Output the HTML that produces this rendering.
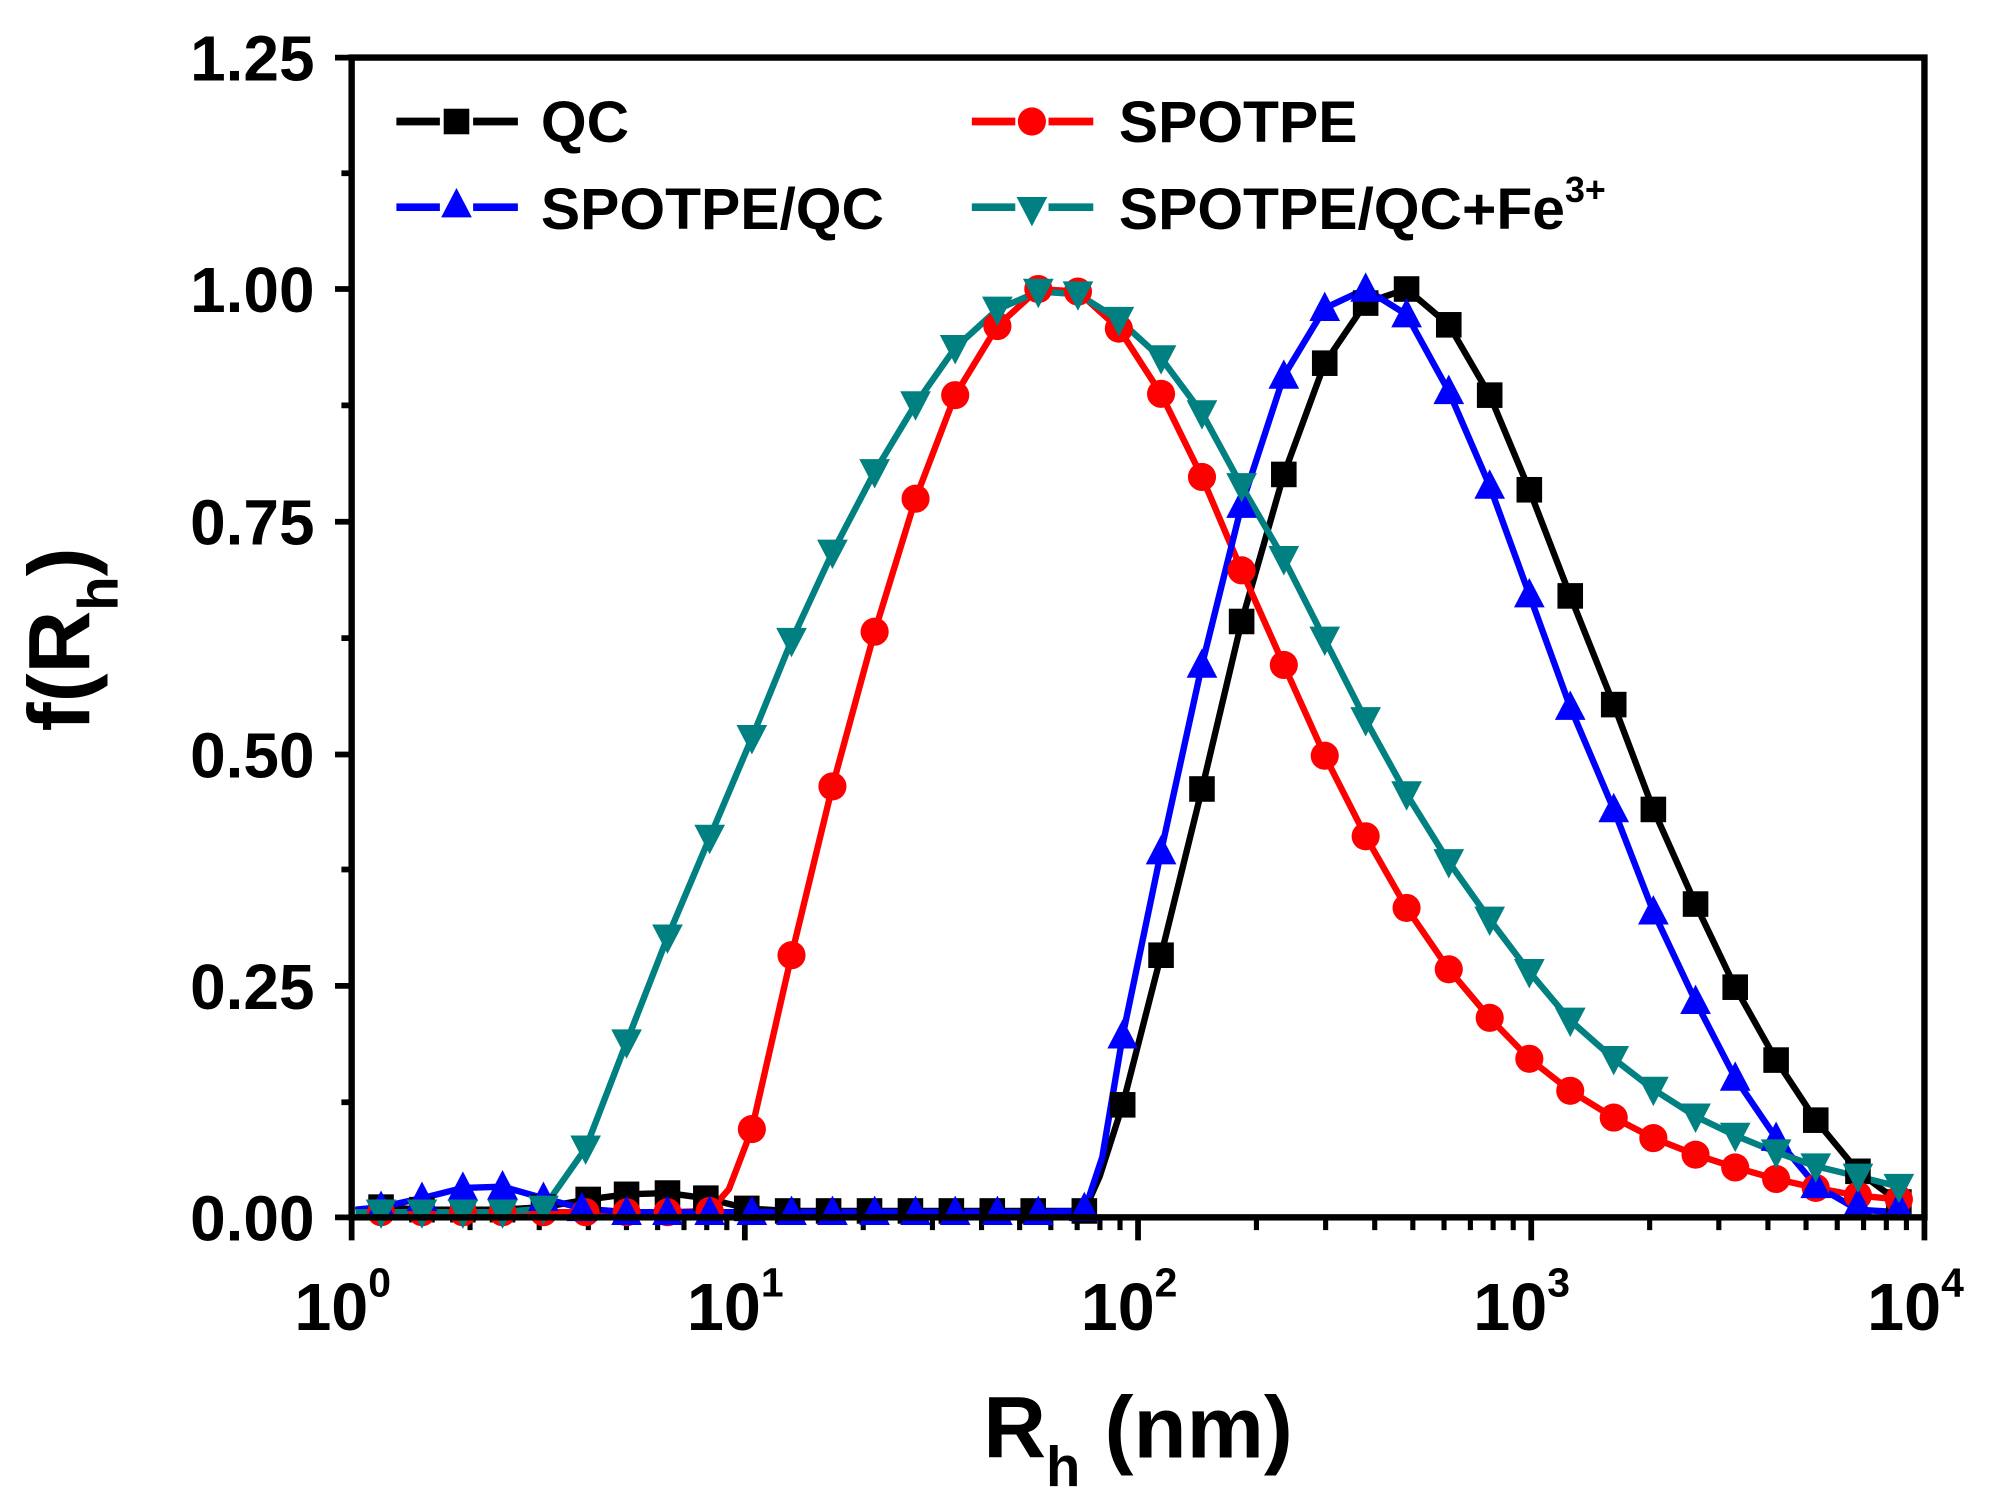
<!DOCTYPE html>
<html><head><meta charset="utf-8"><style>
html,body{margin:0;padding:0;background:#fff;}
svg{display:block;}
text{font-family:"Liberation Sans",Arial,sans-serif;font-weight:bold;}
</style></head><body>
<svg width="2005" height="1507" viewBox="0 0 1568 1178.5" xmlns="http://www.w3.org/2000/svg">
<defs>
<rect id="sq" x="-10" y="-10" width="20" height="20" fill="#000"/>
<circle id="ci" r="11" fill="#ff0000"/>
<polygon id="tu" points="0,-13 12,10 -12,10" fill="#0000ff"/>
<polygon id="td" points="0,13 12,-10 -12,-10" fill="#008080"/>
<path id="mt" d="M92.6,952v10M146.7,952v10M185.1,952v10M214.9,952v10M239.3,952v10M259.9,952v10M277.7,952v10M293.4,952v10" stroke="#000" stroke-width="4"/>
</defs>
<g stroke="#000" stroke-width="4.5">
<path d="M262,45H275M262,226H275M262,408H275M262,590H275M262,771H275M262,952H275"/>
<path d="M267,135.5H275M267,317H275M267,499H275M267,680H275M267,862H275"/>
<path d="M275,952v18M582.5,952v18M890,952v18M1197.5,952v18M1505,952v18"/>
</g>
<use href="#mt" x="275"/><use href="#mt" x="582.5"/><use href="#mt" x="890"/><use href="#mt" x="1197.5"/>
<g fill="none" stroke-width="5" stroke-linejoin="round">
<polyline stroke="#000" points="278,947 298,944 330,946 362,946 393,946 425,944 460,938 490,934 522,933 552,937 584,945 616,947 648,947 680,947 712,947 744,947 776,947 808,947 848,947 860,920 878,864 908,747 940,617 971,486 1004,371 1036,284 1068,237 1100,226 1133,254 1165,309 1196,383 1228,466 1262,551 1293,633 1326,707 1357,772 1389,829 1420,876 1453,916 1485,940"/>
<polyline stroke="#ff0000" points="278,948 298,948 330,948 362,948 393,948 425,948 458,948 490,948 522,948 555,947 570,930 588,883 619,747 651,615 684,494 716,390 747,309 780,255 812,226 843,228 875,257 908,308 940,373 971,446 1004,520 1036,591 1068,654 1100,710 1133,758 1165,796 1196,828 1228,853 1262,874 1293,890 1326,903 1357,913 1389,922 1420,929 1453,935 1485,938"/>
<polyline stroke="#0000ff" points="278,946 298,944 330,937 362,929 393,928 425,937 455,945 490,948 522,948 555,948 588,948 619,948 651,948 684,948 716,948 747,948 780,948 812,948 848,947 862,905 878,810 908,666 940,520 971,395 1004,294 1036,241 1068,226 1100,246 1133,306 1165,380 1196,465 1228,553 1262,633 1293,713 1326,783 1357,843 1389,890 1420,927 1453,946 1485,948"/>
<polyline stroke="#008080" points="278,948 298,948 330,948 362,948 393,948 425,945 458,898 490,815 522,733 555,655 588,577 619,501 651,432 684,369 716,316 747,272 780,242 812,228 843,230 875,250 908,280 940,323 971,380 1004,437 1036,500 1068,563 1100,621 1133,674 1165,719 1196,760 1228,798 1262,828 1293,852 1326,873 1357,888 1389,901 1420,912 1453,920 1485,928"/>
</g>
<g>
<use href="#sq" x="298" y="944"/><use href="#sq" x="330" y="946"/><use href="#sq" x="362" y="946"/><use href="#sq" x="393" y="946"/><use href="#sq" x="425" y="944"/><use href="#sq" x="460" y="938"/><use href="#sq" x="490" y="934"/><use href="#sq" x="522" y="933"/><use href="#sq" x="552" y="937"/><use href="#sq" x="584" y="945"/><use href="#sq" x="616" y="947"/><use href="#sq" x="648" y="947"/><use href="#sq" x="680" y="947"/><use href="#sq" x="712" y="947"/><use href="#sq" x="744" y="947"/><use href="#sq" x="776" y="947"/><use href="#sq" x="808" y="947"/><use href="#sq" x="848" y="947"/>
<use href="#sq" x="878" y="864"/><use href="#sq" x="908" y="747"/><use href="#sq" x="940" y="617"/><use href="#sq" x="971" y="486"/><use href="#sq" x="1004" y="371"/><use href="#sq" x="1036" y="284"/><use href="#sq" x="1068" y="237"/><use href="#sq" x="1100" y="226"/><use href="#sq" x="1133" y="254"/><use href="#sq" x="1165" y="309"/><use href="#sq" x="1196" y="383"/><use href="#sq" x="1228" y="466"/><use href="#sq" x="1262" y="551"/><use href="#sq" x="1293" y="633"/><use href="#sq" x="1326" y="707"/><use href="#sq" x="1357" y="772"/><use href="#sq" x="1389" y="829"/><use href="#sq" x="1420" y="876"/><use href="#sq" x="1453" y="916"/><use href="#sq" x="1485" y="940"/>
</g>
<g>
<use href="#ci" x="298" y="948"/><use href="#ci" x="330" y="948"/><use href="#ci" x="362" y="948"/><use href="#ci" x="393" y="948"/><use href="#ci" x="425" y="948"/><use href="#ci" x="458" y="948"/><use href="#ci" x="490" y="948"/><use href="#ci" x="522" y="948"/><use href="#ci" x="555" y="947"/>
<use href="#ci" x="588" y="883"/><use href="#ci" x="619" y="747"/><use href="#ci" x="651" y="615"/><use href="#ci" x="684" y="494"/><use href="#ci" x="716" y="390"/><use href="#ci" x="747" y="309"/><use href="#ci" x="780" y="255"/><use href="#ci" x="812" y="226"/><use href="#ci" x="843" y="228"/><use href="#ci" x="875" y="257"/><use href="#ci" x="908" y="308"/><use href="#ci" x="940" y="373"/><use href="#ci" x="971" y="446"/><use href="#ci" x="1004" y="520"/><use href="#ci" x="1036" y="591"/><use href="#ci" x="1068" y="654"/><use href="#ci" x="1100" y="710"/><use href="#ci" x="1133" y="758"/><use href="#ci" x="1165" y="796"/><use href="#ci" x="1196" y="828"/><use href="#ci" x="1228" y="853"/><use href="#ci" x="1262" y="874"/><use href="#ci" x="1293" y="890"/><use href="#ci" x="1326" y="903"/><use href="#ci" x="1357" y="913"/><use href="#ci" x="1389" y="922"/><use href="#ci" x="1420" y="929"/><use href="#ci" x="1453" y="935"/><use href="#ci" x="1485" y="938"/>
</g>
<g>
<use href="#tu" x="298" y="944"/><use href="#tu" x="330" y="937"/><use href="#tu" x="362" y="929"/><use href="#tu" x="393" y="928"/><use href="#tu" x="425" y="937"/><use href="#tu" x="455" y="945"/><use href="#tu" x="490" y="948"/><use href="#tu" x="522" y="948"/><use href="#tu" x="555" y="948"/><use href="#tu" x="588" y="948"/><use href="#tu" x="619" y="948"/><use href="#tu" x="651" y="948"/><use href="#tu" x="684" y="948"/><use href="#tu" x="716" y="948"/><use href="#tu" x="747" y="948"/><use href="#tu" x="780" y="948"/><use href="#tu" x="812" y="948"/><use href="#tu" x="848" y="945"/>
<use href="#tu" x="878" y="810"/><use href="#tu" x="908" y="666"/><use href="#tu" x="940" y="520"/><use href="#tu" x="971" y="395"/><use href="#tu" x="1004" y="294"/><use href="#tu" x="1036" y="241"/><use href="#tu" x="1068" y="226"/><use href="#tu" x="1100" y="246"/><use href="#tu" x="1133" y="306"/><use href="#tu" x="1165" y="380"/><use href="#tu" x="1196" y="465"/><use href="#tu" x="1228" y="553"/><use href="#tu" x="1262" y="633"/><use href="#tu" x="1293" y="713"/><use href="#tu" x="1326" y="783"/><use href="#tu" x="1357" y="843"/><use href="#tu" x="1389" y="890"/><use href="#tu" x="1420" y="927"/><use href="#tu" x="1453" y="942"/><use href="#tu" x="1485" y="944"/>
</g>
<g>
<use href="#td" x="298" y="948"/><use href="#td" x="330" y="948"/><use href="#td" x="362" y="948"/><use href="#td" x="393" y="948"/><use href="#td" x="425" y="945"/><use href="#td" x="458" y="898"/><use href="#td" x="490" y="815"/><use href="#td" x="522" y="733"/><use href="#td" x="555" y="655"/><use href="#td" x="588" y="577"/><use href="#td" x="619" y="501"/><use href="#td" x="651" y="432"/><use href="#td" x="684" y="369"/><use href="#td" x="716" y="316"/><use href="#td" x="747" y="272"/><use href="#td" x="780" y="242"/><use href="#td" x="812" y="228"/><use href="#td" x="843" y="230"/><use href="#td" x="875" y="250"/><use href="#td" x="908" y="280"/><use href="#td" x="940" y="323"/><use href="#td" x="971" y="380"/><use href="#td" x="1004" y="437"/><use href="#td" x="1036" y="500"/><use href="#td" x="1068" y="563"/><use href="#td" x="1100" y="621"/><use href="#td" x="1133" y="674"/><use href="#td" x="1165" y="719"/><use href="#td" x="1196" y="760"/><use href="#td" x="1228" y="798"/><use href="#td" x="1262" y="828"/><use href="#td" x="1293" y="852"/><use href="#td" x="1326" y="873"/><use href="#td" x="1357" y="888"/><use href="#td" x="1389" y="901"/><use href="#td" x="1420" y="912"/><use href="#td" x="1453" y="920"/><use href="#td" x="1485" y="928"/>
</g>
<rect x="275" y="45" width="1230" height="907" fill="none" stroke="#000" stroke-width="5"/>
<g font-size="50" text-anchor="end">
<text x="246" y="63">1.25</text>
<text x="246" y="244">1.00</text>
<text x="246" y="426">0.75</text>
<text x="246" y="608">0.50</text>
<text x="246" y="789">0.25</text>
<text x="246" y="970">0.00</text>
</g>
<g font-size="52" text-anchor="middle">
<text x="268" y="1040">10<tspan font-size="32" dy="-26">0</tspan></text>
<text x="575" y="1040">10<tspan font-size="32" dy="-26">1</tspan></text>
<text x="883" y="1040">10<tspan font-size="32" dy="-26">2</tspan></text>
<text x="1190" y="1040">10<tspan font-size="32" dy="-26">3</tspan></text>
<text x="1498" y="1040">10<tspan font-size="32" dy="-26">4</tspan></text>
</g>
<text x="890" y="1140" font-size="68" text-anchor="middle">R<tspan font-size="44" dy="22">h</tspan><tspan dy="-22"> (nm)</tspan></text>
<text transform="translate(70,500) rotate(-90)" font-size="68" text-anchor="middle">f(R<tspan font-size="44" dy="22">h</tspan><tspan dy="-22">)</tspan></text>
<g stroke-width="6">
<path d="M310,95H344M370,95H405" stroke="#000"/><use href="#sq" x="357" y="95"/>
<path d="M310,162H344M370,162H405" stroke="#0000ff"/><use href="#tu" x="357" y="160"/>
<path d="M760,95H794M820,95H855" stroke="#ff0000"/><use href="#ci" x="807" y="95"/>
<path d="M760,162H794M820,162H855" stroke="#008080"/><use href="#td" x="807" y="164"/>
</g>
<g font-size="46">
<text x="423" y="111">QC</text>
<text x="423" y="179">SPOTPE/QC</text>
<text x="875" y="111">SPOTPE</text>
<text x="875" y="179">SPOTPE/QC+Fe<tspan font-size="28" dy="-21">3+</tspan></text>
</g>
</svg>
</body></html>
